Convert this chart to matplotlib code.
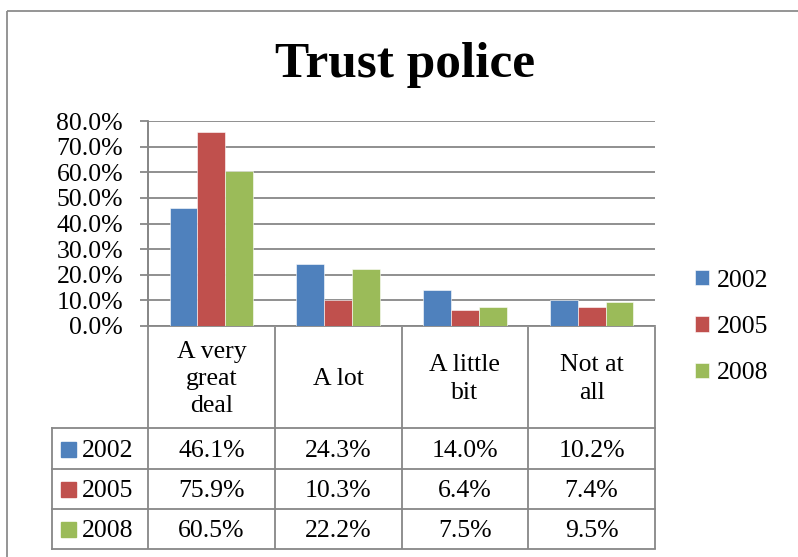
import numpy as np
import matplotlib
matplotlib.use("Agg")
from matplotlib import pyplot as plt
from matplotlib.patches import Rectangle
from matplotlib.transforms import blended_transform_factory

plt.rcParams["font.family"] = ["Liberation Serif", "DejaVu Serif"]

# data
categories = ["A very\ngreat\ndeal", "A lot", "A little\nbit", "Not at\nall"]
years = ["2002", "2005", "2008"]
values_2002 = [46.1, 24.3, 14.0, 10.2]
values_2005 = [75.9, 10.3, 6.4, 7.4]
values_2008 = [60.5, 22.2, 7.5, 9.5]
y_ticks = [0, 10, 20, 30, 40, 50, 60, 70, 80]

series = [values_2002, values_2005, values_2008]
colors = ["#4F81BD", "#C0504D", "#9BBB59"]
grid_color = "#878787"
FS = 18.5
CAP = FS * 100 / 72 * 0.66  # approximate digit height in pixels

W, H = 798, 557
fig = plt.figure(figsize=(W / 100, H / 100), dpi=100)

# overlay in pixel coordinates for frame, title and table
over = fig.add_axes([0, 0, 1, 1], zorder=0)
over.set_xlim(0, W)
over.set_ylim(H, 0)
over.axis("off")

# plot area: x 148..655, y 121..326 (pixels)
px_left, px_right, px_top, px_bottom = 148, 655, 121, 326
ax = fig.add_axes([px_left / W, 1 - px_bottom / H,
                   (px_right - px_left) / W, (px_bottom - px_top) / H], zorder=1)
ax.patch.set_alpha(0)

x = np.arange(len(categories))
bar_w = 0.22
bars = []
for i, (vals, col) in enumerate(zip(series, colors)):
    b = ax.bar(x + 0.5 + (i - 1) * bar_w, vals, width=bar_w, color=col,
               edgecolor="white", linewidth=0.4, label=years[i], zorder=3)
    bars.append(b)

ax.set_xlim(0, len(categories))
ax.set_ylim(0, 80)
ax.set_yticks(y_ticks)
ax.set_yticklabels([f"{v:.1f}%" for v in y_ticks], fontsize=FS)
ax.set_xticks([])
ax.yaxis.grid(True, color=grid_color, linewidth=1.3, zorder=0)
ax.set_axisbelow(True)
ax.tick_params(axis="y", direction="out", length=6, width=1.3, color=grid_color, pad=12)
for s in ["top", "right"]:
    ax.spines[s].set_visible(False)
for s in ["left", "bottom"]:
    ax.spines[s].set_color(grid_color)
    ax.spines[s].set_linewidth(1.3)

# outer chart frame
over.add_patch(Rectangle((7, 11), 830, 600, fill=False, edgecolor="#8C8C8C", linewidth=1.3))

# title
over.text(405, 77, "Trust police", fontsize=37, fontweight="bold", ha="center", va="baseline")

# data table
mix = blended_transform_factory(ax.transData, over.transData)
row_lines = [327, 428, 469, 509, 549]
table_left = 52
lw = 1.3
for xb in range(len(categories) + 1):
    over.plot([xb, xb], [327 if xb else 121, 549], color=grid_color, lw=lw,
              transform=mix, clip_on=False, solid_capstyle="butt")
over.plot([table_left, table_left], [428, 549], color=grid_color, lw=lw)
for yl in row_lines[1:]:
    over.plot([table_left, px_right], [yl, yl], color=grid_color, lw=lw)

for j, cat in enumerate(categories):
    over.text(j + 0.5, 379, cat, transform=mix, ha="center", va="center",
              fontsize=FS, linespacing=1.3)

row_centers = [449, 489, 529]
for i, (vals, col, yr) in enumerate(zip(series, colors, years)):
    yc = row_centers[i]
    over.add_patch(Rectangle((61, yc - 7.5), 15, 15, color=col))
    over.text(82, yc + CAP / 2, yr, ha="left", va="baseline", fontsize=FS)
    for j, v in enumerate(vals):
        over.text(j + 0.5, yc + CAP / 2, f"{v:.1f}%", transform=mix, ha="center",
                  va="baseline", fontsize=FS)

# legend
ax.legend(handles=bars, labels=years, loc="center left",
          bbox_to_anchor=(695 / W, 1 - 327 / H), bbox_transform=fig.transFigure,
          frameon=False, fontsize=FS, handlelength=0.55, handleheight=0.55,
          handletextpad=0.3, labelspacing=0.95, borderpad=0, borderaxespad=0)

fig.savefig("out.png", dpi=100)
